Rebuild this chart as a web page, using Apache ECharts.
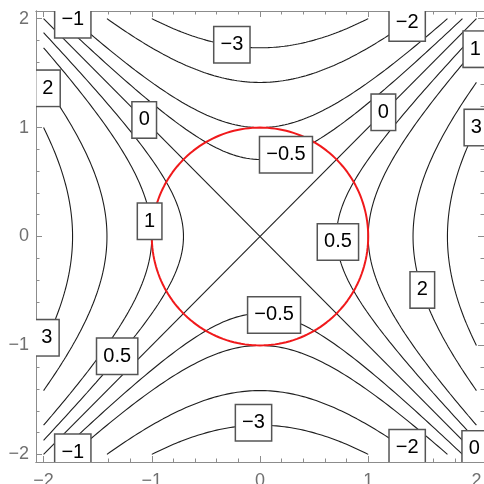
<!DOCTYPE html>
<html><head><meta charset="utf-8">
<script src="https://cdn.jsdelivr.net/npm/echarts@6/dist/echarts.min.js"></script>
<style>html,body{margin:0;padding:0;background:#fff}#c{width:484px;height:484px}</style>
</head><body><div id="c"></div>
<script>
// Contour plot of f(x,y) = x^2 - y^2 on [-2,2]^2 with the unit circle
const contourLevels = [-3, -2, -1, -0.5, 0, 0.5, 1, 2, 3];
const domainMin = -2, domainMax = 2;
const rangeMin = -2.07, rangeMax = 2.07;
const tickValues = [-2, -1, 0, 1, 2];
const tickLabels = ['−2', '−1', '0', '1', '2'];
const minorTickValues = [-1.8,-1.6,-1.4,-1.2,-0.8,-0.6,-0.4,-0.2,0.2,0.4,0.6,0.8,1.2,1.4,1.6,1.8];
const circleRadius = 1;

const labelText = ['−1','−3','−2','1','2','0','0','3','−0.5','1','0.5','2','−0.5','3','0.5','−3','−1','−2','0'];
const labelX    = [-1.73,-0.26,1.36,1.99,-1.96,-1.07,1.14,2.0,0.24,-1.02,0.72,1.5,0.13,-1.97,-1.32,-0.06,-1.73,1.36,1.98];
const labelY    = [1.99,1.76,1.96,1.72,1.36,1.07,1.14,1.0,0.75,0.14,-0.05,-0.49,-0.72,-0.93,-1.10,-1.71,-1.98,-1.94,-1.95];

const N = 240;
function branches(c) {
  const out = [];
  if (c === 0) {
    out.push([[domainMin, domainMin], [domainMax, domainMax]]);
    out.push([[domainMin, domainMax], [domainMax, domainMin]]);
    return out;
  }
  if (c < 0) {
    const xm = Math.min(domainMax, Math.sqrt(domainMax * domainMax + c));
    for (const s of [1, -1]) {
      const pts = [];
      for (let i = 0; i <= N; i++) {
        const x = -xm + 2 * xm * i / N;
        pts.push([x, s * Math.sqrt(x * x - c)]);
      }
      out.push(pts);
    }
  } else {
    const ym = Math.min(domainMax, Math.sqrt(domainMax * domainMax - c));
    for (const s of [1, -1]) {
      const pts = [];
      for (let i = 0; i <= N; i++) {
        const y = -ym + 2 * ym * i / N;
        pts.push([s * Math.sqrt(y * y + c), y]);
      }
      out.push(pts);
    }
  }
  return out;
}

const series = [];
contourLevels.forEach(c => {
  branches(c).forEach(pts => {
    series.push({
      type: 'line', data: pts, showSymbol: false, symbol: 'none', silent: true,
      lineStyle: { color: '#1e1e1e', width: 1.1 }, z: 2, clip: true
    });
  });
});

const circlePts = [];
for (let i = 0; i <= 360; i++) {
  const t = i / 360 * 2 * Math.PI;
  circlePts.push([circleRadius * Math.cos(t), circleRadius * Math.sin(t)]);
}
series.push({
  type: 'line', data: circlePts, showSymbol: false, symbol: 'none', silent: true,
  lineStyle: { color: '#f0191b', width: 2 }, z: 3
});

series.push({
  type: 'custom', clip: true, z: 10, silent: true,
  data: labelText.map((t, i) => [labelX[i], labelY[i], t]),
  renderItem: function (params, api) {
    const p = api.coord([api.value(0), api.value(1)]);
    return {
      type: 'text',
      style: {
        text: labelText[params.dataIndex],
        x: p[0], y: p[1], align: 'center', verticalAlign: 'middle',
        fill: '#000', font: '20px "Liberation Sans", Arial, sans-serif',
        lineHeight: 20,
        backgroundColor: '#fff', borderColor: '#555', borderWidth: 1.5,
        padding: [8, 6, 7, 6]
      }
    };
  }
});

const axisLineStyle = { color: '#8c8c8c', width: 1 };
const labelStyle = { color: '#707070', fontSize: 18, fontFamily: '"Liberation Sans", Arial, sans-serif' };

function mkAxis(pos, major, labels, margin) {
  return {
    type: 'value', position: pos, min: rangeMin, max: rangeMax,
    axisLine: { show: true, onZero: false, lineStyle: axisLineStyle },
    axisTick: { show: true, inside: true, length: major ? 6 : 3.5, customValues: major ? tickValues : minorTickValues, lineStyle: { color: '#8c8c8c' } },
    axisLabel: labels ? Object.assign({ show: true, margin: margin, hideOverlap: false, customValues: tickValues, formatter: v => tickLabels[tickValues.indexOf(Math.round(v))] }, labelStyle) : { show: false },
    splitLine: { show: false }
  };
}

const chart = echarts.init(document.getElementById('c'), null, { renderer: 'canvas' });
chart.setOption({
  animation: false,
  backgroundColor: '#fff',
  grid: { left: 36, top: 11, width: 448, height: 451, containLabel: false, outerBoundsMode: 'none' },
  xAxis: [mkAxis('bottom', true, true, 10), mkAxis('bottom', false, false), mkAxis('top', true, false), mkAxis('top', false, false)],
  yAxis: [mkAxis('left', true, true, 7), mkAxis('left', false, false), mkAxis('right', true, false), mkAxis('right', false, false)],
  series: series
});
</script>
</body></html>
